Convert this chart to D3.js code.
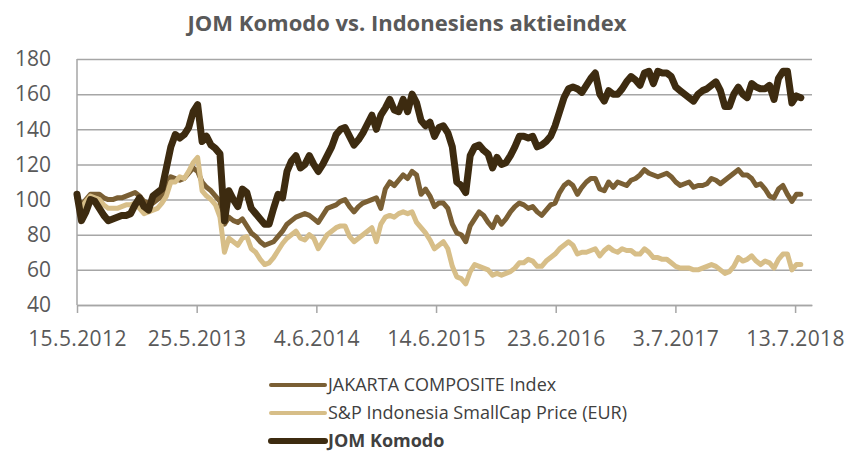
<!DOCTYPE html>
<html>
<head>
<meta charset="utf-8">
<script src="https://d3js.org/d3.v7.min.js"></script>
<style>
  body { margin: 0; background: #fff; }
  text { font-family: "Open Sans", sans-serif; }
</style>
</head>
<body>
<div id="chart"></div>
<script>
// values, one point every 14 days from 15.5.2012
const startDate = "2012-05-15";
const stepDays = 14;

const jakarta = [
  101, 97, 100, 103, 103, 103, 101, 100, 100, 101,
  101, 102, 103, 104, 102, 99, 98, 98, 100, 102,
  108, 113, 112, 111, 112, 115, 118, 116, 110, 107,
  105, 102, 99, 86, 90, 88, 87, 89, 85, 81,
  79, 76, 74, 75, 76, 79, 82, 86, 88, 90,
  91, 92, 91, 89, 87, 91, 95, 96, 97, 99,
  100, 96, 93, 96, 98, 99, 100, 101, 95, 106,
  110, 108, 111, 114, 112, 116, 114, 103, 106, 102,
  96, 98, 98, 95, 86, 81, 80, 76, 85, 89,
  93, 91, 87, 84, 90, 86, 89, 93, 96, 98,
  97, 95, 96, 93, 91, 94, 97, 98, 104, 108,
  110, 108, 103, 107, 110, 112, 112, 106, 105, 110,
  107, 110, 109, 108, 111, 112, 114, 117, 115, 114,
  113, 114, 115, 113, 110, 108, 109, 110, 107, 108,
  108, 109, 112, 111, 109, 111, 113, 115, 117, 114,
  114, 112, 108, 109, 106, 102, 101, 106, 108, 103,
  99, 103, 103
];

const smallcap = [
  101, 95, 99, 102, 101, 100, 97, 95, 95, 95,
  96, 97, 97, 98, 95, 92, 93, 94, 95, 98,
  102, 110, 110, 113, 112, 116, 121, 124, 105, 102,
  100, 97, 90, 70, 78, 76, 74, 78, 79, 72,
  70, 66, 63, 64, 67, 71, 75, 78, 80, 82,
  78, 77, 80, 78, 72, 76, 80, 82, 84, 85,
  85, 79, 76, 78, 80, 82, 84, 76, 86, 90,
  91, 90, 92, 93, 92, 93, 87, 84, 81, 77,
  72, 74, 76, 72, 62, 56, 55, 52, 59, 63,
  62, 61, 60, 57, 58, 57, 58, 59, 61, 64,
  64, 66, 65, 62, 62, 65, 67, 69, 72, 74,
  76, 74, 69, 70, 70, 71, 72, 68, 71, 73,
  71, 70, 72, 71, 71, 69, 69, 72, 70, 67,
  67, 66, 66, 64, 62, 61, 61, 61, 60, 60,
  61, 62, 63, 62, 60, 58, 59, 62, 67, 65,
  66, 68, 65, 63, 65, 64, 61, 66, 69, 69,
  60, 63, 63
];

const komodo = [
  103, 88, 93, 100, 99, 95, 91, 88, 89, 90,
  91, 91, 92, 97, 101, 96, 94, 102, 104, 106,
  118, 130, 137, 135, 137, 141, 150, 154, 133, 136,
  131, 129, 126, 88, 105, 100, 96, 106, 104, 95,
  92, 89, 86, 86, 95, 103, 101, 116, 122, 125,
  118, 120, 125, 120, 116, 120, 125, 130, 137, 140,
  141, 136, 131, 134, 138, 143, 148, 140, 148, 152,
  157, 151, 150, 157, 150, 160, 155, 145, 142, 144,
  136, 141, 142, 138, 130, 110, 108, 104, 125, 130,
  131, 128, 126, 118, 124, 120, 121, 125, 130, 136,
  136, 135, 136, 130, 131, 133, 136, 142, 150, 158,
  163, 164, 163, 161, 165, 169, 172, 160, 156, 162,
  160, 160, 163, 167, 170, 168, 165, 172, 173, 166,
  173, 172, 172, 170, 164, 162, 160, 158, 156, 160,
  162, 163, 165, 167, 162, 153, 153, 160, 164, 160,
  158, 166, 164, 163, 163, 165, 157, 169, 173, 173,
  155, 159, 158
];

const seriesNames = ["JAKARTA COMPOSITE Index", "S&P Indonesia SmallCap Price (EUR)", "JOM Komodo"];
const seriesColors = ["#7a5f34", "#d7be88", "#3d2b10"];
const yTicks = [40, 60, 80, 100, 120, 140, 160, 180];
const xTickLabels = ["15.5.2012", "25.5.2013", "4.6.2014", "14.6.2015", "23.6.2016", "3.7.2017", "13.7.2018"];
const xDomain = ["2012-05-15", "2018-09-04"];

const width = 848, height = 451;
const plot = {left: 77, right: 812, top: 59, bottom: 305};

const parseIso = d3.timeParse("%Y-%m-%d");
const parseTick = d3.timeParse("%d.%m.%Y");
const fmtTick = d3.timeFormat("%-d.%-m.%Y");

const start = parseIso(startDate);
const dates = komodo.map((_, i) => d3.timeDay.offset(start, i * stepDays));

const svg = d3.select("#chart").append("svg")
    .attr("width", width)
    .attr("height", height);

const x = d3.scaleTime()
    .domain(xDomain.map(parseIso))
    .range([plot.left, plot.right]);

const y = d3.scaleLinear()
    .domain([40, 180])
    .range([plot.bottom, plot.top]);

// title
svg.append("text")
    .attr("x", 407)
    .attr("y", 31)
    .attr("text-anchor", "middle")
    .style("font-size", "22px")
    .style("font-weight", "bold")
    .style("fill", "#595959")
    .text("JOM Komodo vs. Indonesiens aktieindex");

// y axis + gridlines
const yAxis = svg.append("g")
    .attr("transform", `translate(${plot.left},0)`)
    .call(d3.axisLeft(y)
      .tickValues(yTicks)
      .tickSize(-(plot.right - plot.left))
      .tickPadding(26));
yAxis.select(".domain").remove();
yAxis.selectAll(".tick line").attr("stroke", "#a6a6a6").attr("stroke-width", 1.5);
yAxis.selectAll(".tick text")
    .style("font-size", "21px")
    .style("fill", "#595959");

// x axis
const xAxis = svg.append("g")
    .attr("transform", `translate(0,${plot.bottom})`)
    .call(d3.axisBottom(x)
      .tickValues(xTickLabels.map(parseTick))
      .tickFormat(fmtTick)
      .tickSize(8)
      .tickSizeOuter(0)
      .tickPadding(18));
xAxis.select(".domain").attr("stroke", "#a6a6a6").attr("stroke-width", 1.5);
xAxis.selectAll(".tick line").attr("stroke", "#a6a6a6").attr("stroke-width", 1.5);
xAxis.selectAll(".tick text")
    .style("font-size", "21px")
    .style("letter-spacing", "0.4px")
    .style("fill", "#595959");

// vertical axis line
svg.append("line")
    .attr("x1", plot.left).attr("x2", plot.left)
    .attr("y1", y(180)).attr("y2", y(40))
    .attr("stroke", "#a6a6a6")
    .attr("stroke-width", 1.5);

// lines
const line = d3.line()
    .x((d, i) => x(dates[i]))
    .y(d => y(d));

const seriesData = [jakarta, smallcap, komodo];
const widths = [5, 5, 7];

svg.append("g")
  .selectAll("path")
  .data(seriesData)
  .join("path")
    .attr("d", line)
    .attr("fill", "none")
    .attr("stroke", (d, i) => seriesColors[i])
    .attr("stroke-width", (d, i) => widths[i])
    .attr("stroke-linejoin", "round")
    .attr("stroke-linecap", "round");

// legend
const legend = svg.append("g")
  .selectAll("g")
  .data(seriesNames)
  .join("g")
    .attr("transform", (d, i) => `translate(0,${385 + i * 28})`);

legend.append("line")
    .attr("x1", 271).attr("x2", 325)
    .attr("y1", 0).attr("y2", 0)
    .attr("stroke", (d, i) => seriesColors[i])
    .attr("stroke-width", (d, i) => widths[i] - 1)
    .attr("stroke-linecap", "round");

legend.append("text")
    .attr("x", 328)
    .attr("dy", "0.35em")
    .style("font-size", "18px")
    .style("fill", "#404040")
    .style("font-weight", (d, i) => i === 2 ? "bold" : "normal")
    .text(d => d);
</script>
</body>
</html>
